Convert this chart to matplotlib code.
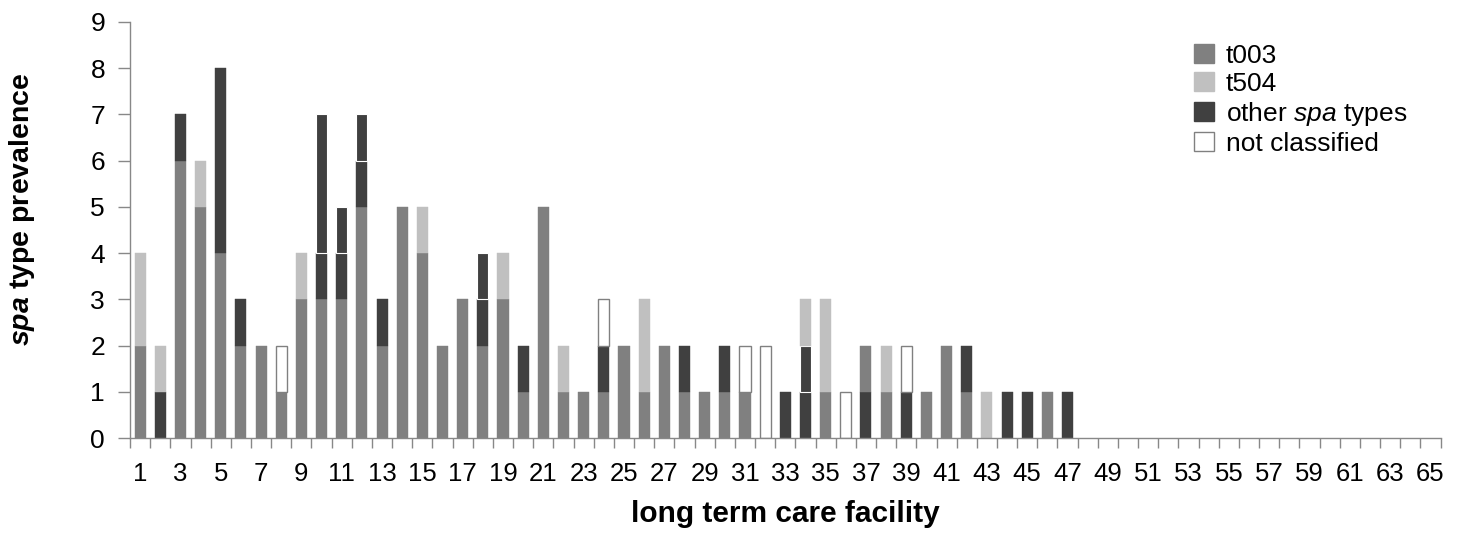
import numpy as np
import matplotlib
matplotlib.use('Agg')
from matplotlib import pyplot as plt
from matplotlib.patches import Patch

plt.rcParams['font.family'] = ['Liberation Sans', 'DejaVu Sans']
plt.rcParams['mathtext.fontset'] = 'custom'
plt.rcParams['mathtext.rm'] = 'Liberation Sans'
plt.rcParams['mathtext.it'] = 'Liberation Sans:italic'
plt.rcParams['mathtext.bf'] = 'Liberation Sans:italic:bold'

# facilities 1..65 (only 1..47 have isolates)
facility = np.arange(1, 66)

# spa type counts per facility, listed in stacking order (bottom -> top)
other_low = {2: 1, 33: 1, 34: 1, 37: 1, 39: 1, 44: 1, 45: 1, 47: 1}
t003 = {1: 2, 3: 6, 4: 5, 5: 4, 6: 2, 7: 2, 8: 1, 9: 3, 10: 3, 11: 3, 12: 5,
        13: 2, 14: 5, 15: 4, 16: 2, 17: 3, 18: 2, 19: 3, 20: 1, 21: 5, 22: 1,
        23: 1, 24: 1, 25: 2, 26: 1, 27: 2, 28: 1, 29: 1, 30: 1, 31: 1, 35: 1,
        37: 1, 38: 1, 40: 1, 41: 2, 42: 1, 46: 1}
other = {3: 1, 5: 4, 6: 1, 10: 1, 11: 1, 12: 1, 13: 1, 18: 1, 20: 1, 24: 1,
         28: 1, 30: 1, 42: 1}
other_b = {10: 3, 11: 1, 12: 1, 18: 1, 34: 1}
t504 = {1: 2, 2: 1, 4: 1, 9: 1, 15: 1, 19: 1, 22: 1, 26: 2, 34: 1, 35: 2,
        38: 1, 43: 1}
not_classified = {8: 1, 24: 1, 31: 1, 32: 2, 36: 1, 39: 1}

c_t003 = '#808080'
c_t504 = '#c0c0c0'
c_other = '#404040'

def arr(d):
    return np.array([d.get(int(f), 0) for f in facility], dtype=float)

series = [
    (arr(other_low), c_other, c_other, 0.3),
    (arr(t003), c_t003, c_t003, 0.3),
    (arr(other), c_other, c_other, 0.3),
    (arr(other_b), c_other, 'white', 0.8),
    (arr(t504), c_t504, c_t504, 0.3),
    (arr(not_classified), 'white', '#808080', 1.0),
]

fig = plt.figure(figsize=(14.61, 5.33), dpi=100)
ax = fig.add_axes([0.089, 0.178, 0.897, 0.781])

w = 0.55
bottom = np.zeros(len(facility))
for vals, fc, ec, lw in series:
    m = vals > 0
    ax.bar(facility[m], vals[m], width=w, bottom=bottom[m],
           color=fc, edgecolor=ec, linewidth=lw, zorder=2)
    bottom += vals

ax.set_xlim(0.5, 65.5)
ax.set_ylim(0, 9)
ax.set_yticks(range(0, 10))
ax.set_xticks(facility[::2])
ax.set_xticks(np.arange(0.5, 66, 1), minor=True)
ax.tick_params(axis='x', which='major', length=0, labelsize=18.5, pad=17)
ax.tick_params(axis='x', which='minor', length=7, color='#888888', width=1)
ax.tick_params(axis='y', length=9, color='#888888', width=1, labelsize=19, pad=9)

for s in ['top', 'right']:
    ax.spines[s].set_visible(False)
for s in ['left', 'bottom']:
    ax.spines[s].set_color('#888888')
    ax.spines[s].set_linewidth(1)

ax.set_xlabel('long term care facility', fontsize=21.5, fontweight='bold', labelpad=10)
ax.set_ylabel(r'$\mathbf{spa}$ type prevalence', fontsize=20.5, fontweight='bold')
ax.yaxis.set_label_coords(-0.071, 0.55)

handles = [
    Patch(facecolor=c_t003, edgecolor=c_t003, label='t003'),
    Patch(facecolor=c_t504, edgecolor=c_t504, label='t504'),
    Patch(facecolor=c_other, edgecolor=c_other, label=r'other $\mathit{spa}$ types'),
    Patch(facecolor='white', edgecolor='#808080', label='not classified'),
]
ax.legend(handles=handles, loc='upper left', bbox_to_anchor=(0.812, 0.947),
          frameon=False, fontsize=19, handlelength=0.75, handleheight=0.75,
          handletextpad=0.45, labelspacing=0.15, borderpad=0, borderaxespad=0)

fig.savefig('out.png', dpi=100)
